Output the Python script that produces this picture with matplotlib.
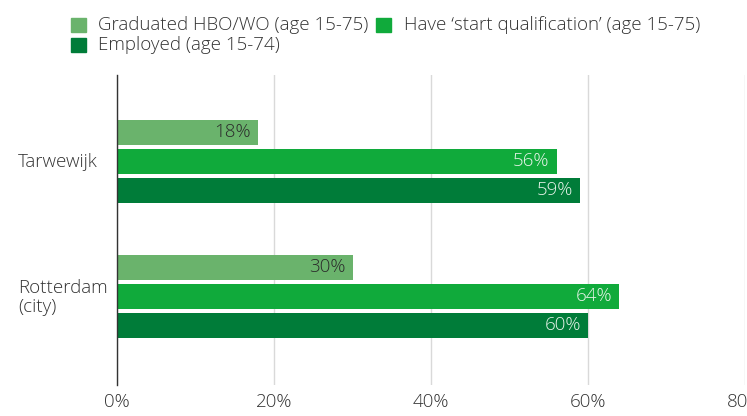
import matplotlib.pyplot as plt
from matplotlib.patches import Rectangle
import numpy as np

plt.rcParams['font.family'] = ['Open Sans', 'DejaVu Sans']
plt.rcParams['font.weight'] = 'light'

# Indicators per area (%)
areas = ["Tarwewijk", "Rotterdam\n(city)"]
series = ["Graduated HBO/WO (age 15-75)", "Have \u2018start qualification\u2019 (age 15-75)", "Employed (age 15-74)"]
graduated = [18, 30]
start_qual = [56, 64]
employed = [59, 60]
xticks = [0, 20, 40, 60, 80]
xtick_labels = ["0%", "20%", "40%", "60%", "80%"]

colors = ["#6ab36c", "#10aa3b", "#007c39"]
label_colors = ["#2b2b2b", "#e8f4ea", "#e8f4ea"]
FS = 13.5

fig = plt.figure(figsize=(7.47, 4.16), dpi=100)
W, H = 747, 416
ax = fig.add_axes([117 / W, 1 - 385 / H, (745 - 117) / W, (385 - 75) / H])

y = np.arange(len(areas))
bh = 0.185
step = 0.215
values = [graduated, start_qual, employed]
for i, vals in enumerate(values):
    off = (i - 1) * step
    bars = ax.barh(y + off, vals, height=bh, color=colors[i], zorder=3)
    for b, v in zip(bars, vals):
        ax.text(v - 0.9, b.get_y() + bh / 2, f"{v}%", ha='right', va='center',
                fontsize=FS, color=label_colors[i], zorder=4)

ax.set_xlim(0, 80)
ax.set_ylim(1.656, -0.64)
ax.set_xticks(xticks)
ax.set_xticklabels(xtick_labels, fontsize=FS, color="#333333")
ax.set_yticks([])
ax.grid(axis='x', color="#d9d9d9", linewidth=1, zorder=0)
ax.tick_params(axis='x', length=0, pad=6)
for s in ['top', 'right', 'bottom']:
    ax.spines[s].set_visible(False)
ax.spines['left'].set_color("#333333")
ax.spines['left'].set_linewidth(1)
ax.spines['left'].set_zorder(5)

# category labels
for yi, name in zip(y, areas):
    px = ax.transData.transform((0, yi))[1]
    fig.text(18 / W, (px - 1) / H, name, ha='left', va='center', fontsize=FS,
             color="#333333", linespacing=1.08)

# legend drawn by hand
leg = [(71, 25, 98, 0), (376, 25, 404, 1), (71, 45, 98, 2)]
for lx, ly, tx, i in leg:
    fig.patches.append(Rectangle((lx / W, 1 - (ly + 7) / H), 15 / W, 14 / H,
                                 transform=fig.transFigure, color=colors[i]))
    fig.text(tx / W, 1 - ly / H, series[i], ha='left', va='center',
             fontsize=FS, color="#333333")

fig.savefig("out.png", dpi=100)
